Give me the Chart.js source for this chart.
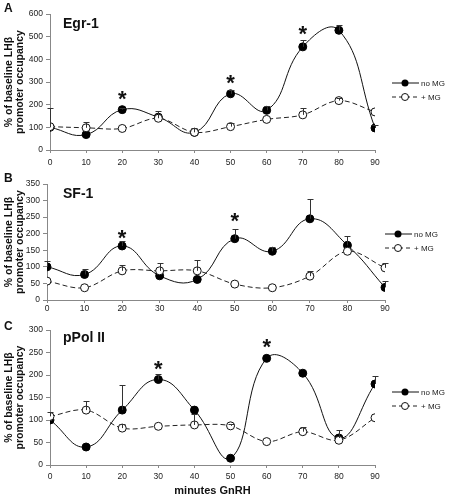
<!DOCTYPE html>
<html lang="en">
<head>
<meta charset="UTF-8">
<title>LHb promoter occupancy</title>
<script src="https://cdn.jsdelivr.net/npm/chart.js"></script>
<style>
    body {
        margin: 0;
        padding: 0;
        background: #fff;
        font-family: Arial, "Liberation Sans", sans-serif;
    }
    .page {
        position: relative;
        width: 453px;
        height: 502px;
        overflow: hidden;
    }
    .page canvas {
        position: absolute;
        left: 0;
    }
    .letter {
        position: absolute;
        left: 4px;
        font-weight: bold;
        font-size: 12px;
        color: #111;
    }
    .ptitle {
        position: absolute;
        left: 63px;
        font-weight: bold;
        font-size: 14px;
        color: #111;
    }
    .legend {
        position: absolute;
        font-size: 8px;
        color: #222;
    }
    .legend div {
        height: 14px;
        display: flex;
        align-items: center;
    }
    .legend svg {
        margin-right: 2px;
    }
</style>
</head>
<body>
<div class="page">
    <canvas id="chartA" width="453" height="168" style="top:0px"></canvas>
    <canvas id="chartB" width="453" height="150" style="top:168px"></canvas>
    <canvas id="chartC" width="453" height="184" style="top:318px"></canvas>

    <div class="letter" style="top:1px">A</div>
    <div class="letter" style="top:171px">B</div>
    <div class="letter" style="top:319px">C</div>

    <div class="ptitle" style="top:15px">Egr-1</div>
    <div class="ptitle" style="top:185px">SF-1</div>
    <div class="ptitle" style="top:329px">pPol II</div>

    <div class="legend" id="legA" style="left:392px; top:76px"></div>
    <div class="legend" id="legB" style="left:385px; top:227px"></div>
    <div class="legend" id="legC" style="left:392px; top:385px"></div>
</div>

<script>
    // x values (minutes of GnRH)
    const minutes = [0, 10, 20, 30, 40, 50, 60, 70, 80, 90];

    // A: Egr-1
    const egrNoMG    = [100, 68, 178, 145, 78, 248, 175, 455, 528, 97];
    const egrNoMGErr = [85, 0, 8, 0, 0, 18, 20, 30, 22, 15];
    const egrMG      = [103, 98, 95, 140, 78, 103, 135, 155, 218, 168];
    const egrMGErr   = [0, 27, 0, 30, 17, 17, 0, 30, 12, 0];
    const egrStars   = [[20, 240], [50, 312], [70, 528]];

    // B: SF-1
    const sfNoMG    = [100, 77, 163, 73, 62, 185, 147, 245, 165, 38];
    const sfNoMGErr = [18, 18, 15, 0, 0, 30, 13, 60, 28, 18];
    const sfMG      = [57, 37, 88, 88, 88, 48, 37, 72, 147, 97];
    const sfMGErr   = [0, 0, 17, 25, 32, 0, 0, 16, 0, 16];
    const sfStars   = [[20, 199], [50, 249]];

    // C: pPol II
    const polNoMG    = [100, 40, 122, 190, 122, 15, 237, 204, 60, 180];
    const polNoMGErr = [0, 0, 56, 12, 0, 0, 0, 0, 18, 17];
    const polMG      = [108, 122, 82, 86, 89, 87, 52, 74, 55, 105];
    const polMGErr   = [10, 21, 10, 0, 24, 5, 0, 11, 0, 0];
    const polStars   = [[30, 221], [60, 269]];

    const legendLabels = ['no MG', '+ MG'];

    const FONT = 'Arial, "Liberation Sans", sans-serif';

    function toPoints(values) {
        return values.map((v, i) => ({ x: minutes[i], y: v }));
    }

    // draws upper error bars and the significance asterisks
    const extrasPlugin = {
        id: 'extras',
        afterDatasetsDraw(chart) {
            const ctx = chart.ctx;
            const xs = chart.scales.x;
            const ys = chart.scales.y;
            ctx.save();
            chart.data.datasets.forEach(ds => {
                if (!ds.errors) return;
                ctx.strokeStyle = '#333';
                ctx.lineWidth = 1;
                ds.errors.forEach((e, i) => {
                    if (!e) return;
                    const px = Math.round(xs.getPixelForValue(minutes[i])) + 0.5;
                    const y0 = ys.getPixelForValue(ds.data[i].y);
                    const y1 = Math.round(ys.getPixelForValue(ds.data[i].y + e)) + 0.5;
                    ctx.beginPath();
                    ctx.moveTo(px, y0);
                    ctx.lineTo(px, y1);
                    ctx.moveTo(px - 3, y1);
                    ctx.lineTo(px + 3, y1);
                    ctx.stroke();
                });
            });
            const stars = chart.options.plugins.extras.stars || [];
            ctx.fillStyle = '#111';
            ctx.font = 'bold 22px ' + FONT;
            ctx.textAlign = 'center';
            ctx.textBaseline = 'alphabetic';
            stars.forEach(s => {
                const m = ctx.measureText('*');
                const px = xs.getPixelForValue(s[0]);
                const py = ys.getPixelForValue(s[1]);
                const off = (m.actualBoundingBoxAscent - m.actualBoundingBoxDescent) / 2;
                ctx.fillText('*', px, py + off);
            });
            ctx.restore();
        }
    };

    function makePanel(id, cfg) {
        const ctx = document.getElementById(id).getContext('2d');
        new Chart(ctx, {
            type: 'line',
            data: {
                datasets: [
                    {
                        label: legendLabels[1],
                        data: toPoints(cfg.mg),
                        errors: cfg.mgErr,
                        borderColor: '#222',
                        borderWidth: 1,
                        borderDash: [5, 3],
                        tension: 0.35,
                        pointRadius: 4,
                        pointBackgroundColor: '#fff',
                        pointBorderColor: '#111',
                        pointBorderWidth: 1
                    },
                    {
                        label: legendLabels[0],
                        data: toPoints(cfg.noMg),
                        errors: cfg.noMgErr,
                        borderColor: '#111',
                        borderWidth: 1,
                        tension: 0.45,
                        pointRadius: 4,
                        pointBackgroundColor: '#000',
                        pointBorderColor: '#000',
                        pointBorderWidth: 1
                    }
                ]
            },
            options: {
                responsive: false,
                animation: false,
                devicePixelRatio: 1,
                layout: { padding: cfg.padding },
                plugins: {
                    legend: { display: false },
                    tooltip: { enabled: false },
                    extras: { stars: cfg.stars }
                },
                scales: {
                    x: {
                        type: 'linear',
                        min: 0,
                        max: 90,
                        afterFit: s => { s.height = cfg.xHeight; },
                        ticks: {
                            stepSize: 10,
                            autoSkip: false,
                            maxRotation: 0,
                            padding: cfg.xPad,
                            color: '#222',
                            font: { family: FONT, size: 8.5 }
                        },
                        grid: { drawOnChartArea: false, tickLength: 3, color: '#888' },
                        border: { color: '#888' },
                        title: {
                            display: !!cfg.xTitle,
                            text: cfg.xTitle || '',
                            color: '#111',
                            font: { family: FONT, size: 11, weight: 'bold' },
                            padding: { top: 4, bottom: 4 }
                        }
                    },
                    y: {
                        min: 0,
                        max: cfg.yMax,
                        afterFit: s => { s.width = cfg.yWidth; },
                        ticks: {
                            stepSize: cfg.yStep,
                            padding: 3,
                            color: '#222',
                            font: { family: FONT, size: 8.5 }
                        },
                        grid: { drawOnChartArea: false, tickLength: 4, color: '#888' },
                        border: { color: '#888' },
                        title: {
                            display: true,
                            text: ['% of baseline LH\u03b2', 'promoter occupancy'],
                            color: '#111',
                            font: { family: FONT, size: 10.5, weight: 'bold', lineHeight: 1.1 },
                            padding: { top: 3, bottom: 0 }
                        }
                    }
                }
            },
            plugins: [extrasPlugin]
        });
    }

    function makeLegend(id) {
        const el = document.getElementById(id);
        el.innerHTML =
            '<div><svg width="27" height="10"><line x1="0" y1="5" x2="27" y2="5" stroke="#111" stroke-width="1"/>' +
            '<circle cx="13" cy="5" r="3.5" fill="#000"/></svg>' + legendLabels[0] + '</div>' +
            '<div><svg width="27" height="10"><line x1="0" y1="5" x2="27" y2="5" stroke="#222" stroke-width="1" stroke-dasharray="4 3"/>' +
            '<circle cx="13" cy="5" r="3.5" fill="#fff" stroke="#111"/></svg>' + legendLabels[1] + '</div>';
    }

    makePanel('chartA', {
        noMg: egrNoMG, noMgErr: egrNoMGErr, mg: egrMG, mgErr: egrMGErr, stars: egrStars,
        yMax: 600, yStep: 100, yWidth: 50, xHeight: 18, xPad: 5,
        padding: { top: 14, right: 78, bottom: 0, left: 0 }
    });
    makePanel('chartB', {
        noMg: sfNoMG, noMgErr: sfNoMGErr, mg: sfMG, mgErr: sfMGErr, stars: sfStars,
        yMax: 350, yStep: 50, yWidth: 47, xHeight: 18, xPad: 1,
        padding: { top: 16, right: 68, bottom: 0, left: 0 }
    });
    makePanel('chartC', {
        noMg: polNoMG, noMgErr: polNoMGErr, mg: polMG, mgErr: polMGErr, stars: polStars,
        yMax: 300, yStep: 50, yWidth: 50, xHeight: 37, xPad: 4, xTitle: 'minutes GnRH',
        padding: { top: 12, right: 78, bottom: 0, left: 0 }
    });

    makeLegend('legA');
    makeLegend('legB');
    makeLegend('legC');
</script>
</body>
</html>
